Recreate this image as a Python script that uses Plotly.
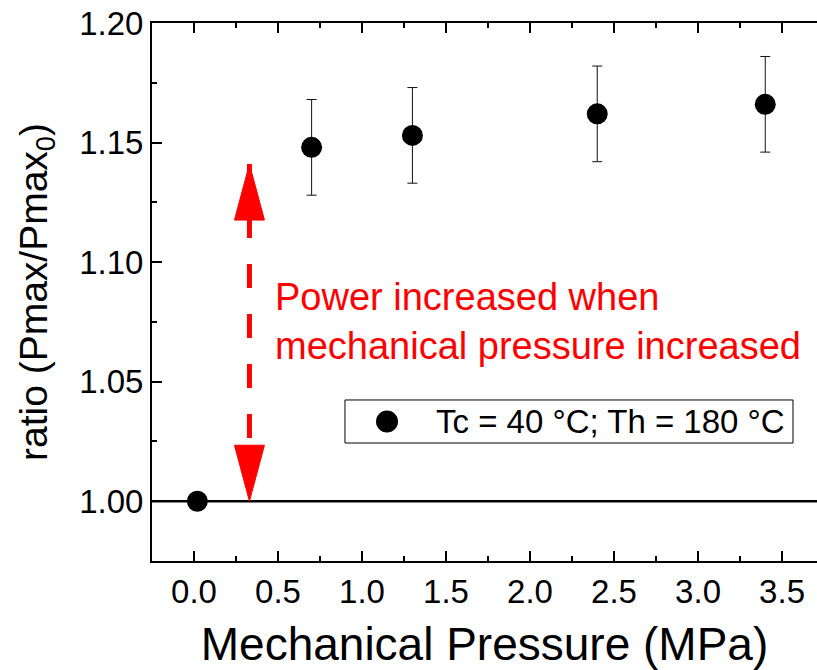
import plotly.graph_objects as go

# Measured power ratio versus applied mechanical pressure
pressure_mpa = [0.02, 0.70, 1.30, 2.40, 3.40]
power_ratio = [1.000, 1.148, 1.153, 1.162, 1.166]
ratio_error = [0.0, 0.020, 0.020, 0.020, 0.020]

x_ticks = [0.0, 0.5, 1.0, 1.5, 2.0, 2.5, 3.0, 3.5]
y_ticks = [1.00, 1.05, 1.10, 1.15, 1.20]

series_label = "Tc = 40 °C; Th = 180 °C"
note_text = "Power increased when<br>mechanical pressure increased"

# double-headed arrow marking the increase
arrow_x = 0.33
arrow_bottom = 1.000
arrow_top = 1.141

FONT = "Arial, Liberation Sans, sans-serif"
RED = "#ff0000"

fig = go.Figure()

fig.add_trace(go.Scatter(
    x=pressure_mpa,
    y=power_ratio,
    mode="markers",
    name=series_label,
    showlegend=False,
    marker=dict(size=21, color="black", line=dict(width=0)),
    error_y=dict(type="data", array=ratio_error, visible=True,
                 color="#111111", thickness=1, width=5),
))

shapes = [
    # reference line at ratio = 1
    dict(type="line", xref="paper", x0=0, x1=1, yref="y", y0=1.0, y1=1.0,
         line=dict(color="black", width=2.5), layer="below"),
    # dashed arrow shaft
    dict(type="line", xref="x", yref="y", x0=arrow_x, x1=arrow_x,
         y0=arrow_top, y1=arrow_bottom,
         line=dict(color=RED, width=5, dash="24px,26px")),
    # arrow heads (pixel-sized, anchored at the tips)
    dict(type="path", xref="x", yref="y", xsizemode="pixel", ysizemode="pixel",
         xanchor=arrow_x, yanchor=arrow_top,
         path="M -15,-56 L 0,0 L 15,-56 Z",
         fillcolor=RED, line=dict(color=RED, width=1)),
    dict(type="path", xref="x", yref="y", xsizemode="pixel", ysizemode="pixel",
         xanchor=arrow_x, yanchor=arrow_bottom,
         path="M -15,56 L 0,0 L 15,56 Z",
         fillcolor=RED, line=dict(color=RED, width=1)),
    # legend box and symbol
    dict(type="rect", xref="paper", yref="paper",
         x0=0.2902, x1=0.9639, y0=0.2193, y1=0.2993,
         line=dict(color="black", width=1), fillcolor="white", layer="below"),
    dict(type="circle", xref="paper", yref="paper",
         xsizemode="pixel", ysizemode="pixel",
         xanchor=0.3534, yanchor=0.2593, x0=-11, x1=11, y0=-11, y1=11,
         fillcolor="black", line=dict(width=0)),
]

annotations = [
    dict(x=0.47, y=1.075, xref="x", yref="y", text=note_text,
         showarrow=False, xanchor="left", yanchor="middle", align="left",
         font=dict(family=FONT, size=38, color=RED)),
    dict(x=0.424, y=0.2593, xref="paper", yref="paper", text=series_label,
         showarrow=False, xanchor="left", yanchor="middle",
         font=dict(family=FONT, size=33, color="black")),
]

axis_common = dict(
    showgrid=False, zeroline=False,
    showline=True, linecolor="black", linewidth=2,
    ticks="inside", ticklen=10, tickwidth=2, tickcolor="black",
    tickfont=dict(family=FONT, size=33, color="black"),
)

fig.update_layout(
    width=817, height=670,
    margin=dict(l=152, r=0, t=23, b=109),
    paper_bgcolor="white", plot_bgcolor="white",
    font=dict(family=FONT, color="black"),
    shapes=shapes,
    annotations=annotations,
    showlegend=False,
    xaxis=dict(
        **axis_common,
        range=[-0.25, 3.708],
        tickvals=x_ticks, tickformat=".1f",
        mirror="ticks",
        minor=dict(ticks="inside", ticklen=5, tickwidth=2, tickcolor="black",
                   dtick=0.25, tick0=0),
        title=dict(text="Mechanical Pressure (MPa)",
                   font=dict(family=FONT, size=46, color="black"),
                   standoff=26),
    ),
    yaxis=dict(
        **axis_common,
        range=[0.975, 1.2],
        tickvals=y_ticks, tickformat=".2f",
        mirror=False,
        minor=dict(ticks="inside", ticklen=5, tickwidth=2, tickcolor="black",
                   dtick=0.025, tick0=1.0),
        title=dict(text="ratio (Pmax/Pmax<sub>0</sub>)",
                   font=dict(family=FONT, size=39, color="black"),
                   standoff=20),
    ),
)

fig.write_html("out.html")
